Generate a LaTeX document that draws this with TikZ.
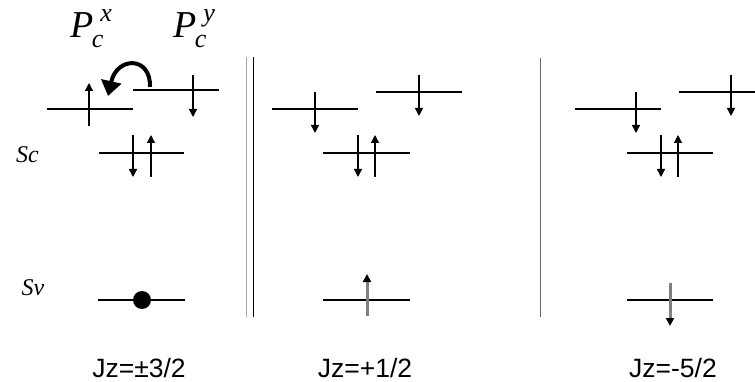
\documentclass[tikz,border=0pt]{standalone}
\usepackage{fontspec}
\setmainfont{Liberation Serif}
\newfontfamily\sansf{Liberation Sans}
\usetikzlibrary{arrows.meta}
\newcommand\PcLabel[1]{\textit{P}\rlap{\kern7pt\raisebox{16pt}{\fontsize{26}{26}\selectfont\textit{#1}}}\kern-1.5pt\raisebox{-10pt}{\fontsize{26}{26}\selectfont\textit{c}}}
\tikzset{
  level/.style={line width=2.7pt},
  spin/.style={line width=1.3pt,-{Triangle[length=8pt,width=8pt]}},
  vspin/.style={draw=gray,line width=3pt,-{Triangle[length=8pt,width=8pt,black]}},
  sep/.style={line width=1.2pt},
  plabel/.style={anchor=base west,inner sep=0pt,font=\fontsize{38}{38}\selectfont},
  band/.style={anchor=base,inner sep=0pt,font=\fontsize{24}{24}\selectfont\itshape},
  jz/.style={anchor=base,inner sep=0pt,font=\sansf\fontsize{26.5}{26.5}\selectfont},
}
\begin{document}
\begin{tikzpicture}[x=1pt,y=-1pt]
\useasboundingbox (0,0) rectangle (755,382);
% labels
\node[plabel] (px) at (70,38) {\PcLabel{x}};
\node[plabel] (py) at (173,38) {\PcLabel{y}};
\node[band] (sc) at (27.5,163) {Sc};
\node[band] (sv) at (33,295) {Sv};
\node[jz] (j1) at (139,377) {Jz=±3/2};
\node[jz] (j2) at (365,377) {Jz=+1/2};
\node[jz] (j3) at (673,377) {Jz=-5/2};
% separators
\draw[sep,gray!70] (246.5,57) -- (246.5,317);
\draw[sep] (253.5,57) -- (253.5,317);
\draw[sep,gray!80!black] (540.5,58) -- (540.5,317);
% panel 1
\draw[level] (47,109) -- (133,109);
\draw[level] (133,90) -- (219,90);
\draw[level] (99,153) -- (184,153);
\draw[level] (98,300) -- (185,300);
\draw[spin] (89,126) -- (89,83);
\draw[spin] (193,75) -- (193,117);
\draw[spin] (133,135) -- (133,177);
\draw[spin] (151,177) -- (151,135);
\fill (142,300) circle (9);
\coordinate (cs) at (150,87);
\coordinate (ce) at (108,96);
\draw[line width=4pt,-{Triangle[length=15pt,width=20pt]}] (cs) .. controls (151,56) and (117,56) .. (ce);
% panel 2
\draw[level] (272,109) -- (358,109);
\draw[level] (376,92) -- (462,92);
\draw[level] (323,153) -- (410,153);
\draw[level] (323,300) -- (410,300);
\draw[spin] (315,92) -- (315,133);
\draw[spin] (419,75) -- (419,116);
\draw[spin] (358,135) -- (358,177);
\draw[spin] (375,177) -- (375,135);
\draw[vspin] (367,316) -- (367,274);
% panel 3
\draw[level] (575,109) -- (661,109);
\draw[level] (679,92) -- (755,92);
\draw[level] (627,153) -- (713,153);
\draw[level] (627,300) -- (713,300);
\draw[spin] (636,92) -- (636,133);
\draw[spin] (731,75) -- (731,116);
\draw[spin] (661,135) -- (661,177);
\draw[spin] (678,177) -- (678,135);
\draw[vspin] (670,283) -- (670,326);
\end{tikzpicture}
\end{document}
